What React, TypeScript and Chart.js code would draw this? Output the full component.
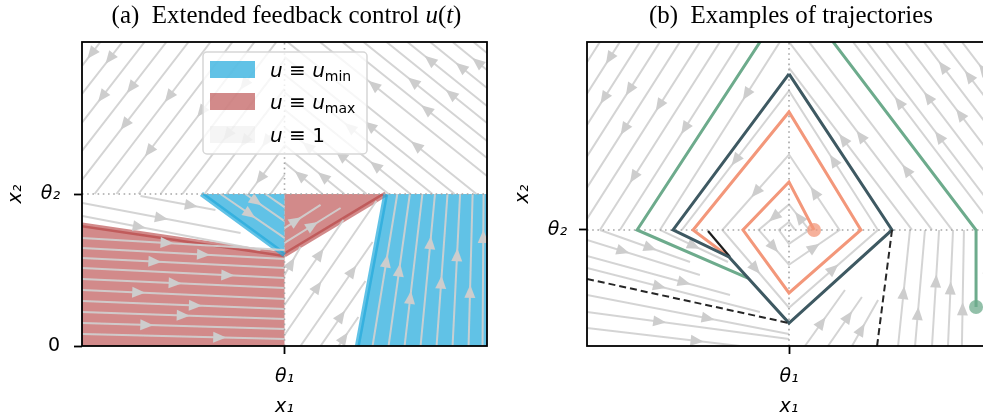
import React, { useEffect, useRef } from 'react';
import { Chart, registerables } from 'chart.js';

Chart.register(...registerables);

type P = [number, number];

// ================= shared values =================
const THETA1 = 0;
const THETA2 = 1;

// ================= panel (a) =================
const titleA: [string, string][] = [['(a)  Extended feedback control ', 'n'], ['u', 'i'], ['(', 'n'], ['t', 'i'], [')', 'n']];
const xRangeA: P = [-1, 1];
const yRangeA: P = [0, 2];
const xTicksA = [{ value: THETA1, label: 'θ₁' }];
const yTicksA = [{ value: 0, label: '0' }, { value: THETA2, label: 'θ₂' }];
const axisLabelsA = { x: 'x₁', y: 'x₂' };

const legendItemsA: [string, string][][] = [
  [['u', 'i'], [' ≡ ', 'n'], ['u', 'i'], ['min', 's']],
  [['u', 'i'], [' ≡ ', 'n'], ['u', 'i'], ['max', 's']],
  [['u', 'i'], [' ≡ 1', 'n']],
];

// u = u_min regions
const regionMinRight: P[] = [[0.5, 1], [1, 1], [1, 0], [0.36, 0], [0.5, 1]];
const regionMinTri: P[] = [[-0.41, 1], [0, 1], [0, 0.6], [-0.41, 1]];
// u = u_max regions
const regionMaxLeft: P[] = [[-1, 0], [-1, 0.796], [0, 0.6], [0, 0], [-1, 0]];
const regionMaxTri: P[] = [[0, 1], [0.5, 1], [0, 0.6], [0, 1]];
const edgesMin: P[][] = [[[-0.41, 1], [0, 0.6]], [[0.36, 0], [0.5, 1]]];
const edgesMax: P[][] = [[[-1, 0.796], [0, 0.6]], [[0, 0.6], [0.5, 1]]];

const thetaLinesA: P[][] = [[[THETA1, 0], [THETA1, 2]], [[-1, THETA2], [1, THETA2]]];

const streamsA: P[][] = [
  // upper left
  [[-0.909, 2], [-0.998, 1.846]],
  [[-0.8, 2], [-1, 1.658]],
  [[-0.691, 2], [-1, 1.47]],
  [[-0.583, 2], [-1, 1.283]],
  [[-0.474, 2], [-1, 1.093]],
  [[-0.365, 2], [-0.938, 1]],
  [[-0.257, 2], [-0.83, 1]],
  [[-0.148, 2], [-0.721, 1]],
  [[-0.04, 2], [-0.612, 1]],
  [[0, 1.882], [-0.504, 1]],
  [[0, 1.691], [-0.395, 1]],
  [[0, 1.507], [-0.286, 1]],
  [[0, 1.316], [-0.178, 1]],
  [[0, 1.125], [-0.069, 1]],
  // upper right
  [[0.188, 1], [0, 1.207]],
  [[0.296, 1], [0, 1.322]],
  [[0.405, 1], [0, 1.438]],
  [[0.514, 1], [0, 1.554]],
  [[0.622, 1], [0, 1.67]],
  [[0.731, 1], [0, 1.786]],
  [[0.84, 1], [0, 1.901]],
  [[0.948, 1], [0.015, 2]],
  [[1, 1.118], [0.175, 2]],
  [[1, 1.237], [0.286, 2]],
  [[1, 1.349], [0.39, 2]],
  [[1, 1.467], [0.504, 2]],
  [[1, 1.579], [0.607, 2]],
  [[1, 1.697], [0.719, 2]],
  [[1, 1.816], [0.83, 2]],
  [[1, 1.928], [0.933, 2]],
  // white wedge below theta2 on the left
  [[-0.998, 0.941], [-0.217, 0.743]],
  [[-0.998, 0.855], [-0.119, 0.632]],
  [[-0.711, 0.987], [-0.341, 0.895]],
  // u_max lower-left region
  [[-1, 0.711], [0, 0.632]],
  [[-1, 0.645], [0, 0.572]],
  [[-1, 0.579], [0, 0.513]],
  [[-1, 0.513], [0, 0.447]],
  [[-1, 0.441], [0, 0.382]],
  [[-1, 0.368], [0, 0.309]],
  [[-1, 0.296], [0, 0.243]],
  [[-1, 0.224], [0, 0.178]],
  [[-1, 0.151], [0, 0.112]],
  [[-1, 0.079], [0, 0.046]],
  // white lower-right wedge
  [[0, 0.467], [0.079, 0.651]],
  [[0, 0.27], [0.291, 0.829]],
  [[0, 0.072], [0.454, 0.954]],
  [[0.079, 0], [0.435, 0.684]],
  [[0.178, 0], [0.4, 0.428]],
  [[0.267, 0], [0.365, 0.191]],
  // u_min right region
  [[0.435, 0], [0.557, 1]],
  [[0.514, 0], [0.619, 1]],
  [[0.593, 0], [0.681, 1]],
  [[0.672, 0], [0.743, 1]],
  [[0.751, 0], [0.805, 1]],
  [[0.83, 0], [0.867, 1]],
  [[0.909, 0], [0.929, 1]],
  [[0.978, 0], [0.983, 1]],
  // u_min triangle
  [[-0.316, 1], [0, 0.711]],
  [[-0.193, 1], [0, 0.822]],
  [[-0.094, 1], [0, 0.914]],
  // u_max triangle
  [[0, 0.678], [0.277, 0.908]],
  [[0, 0.776], [0.178, 0.928]],
];

// ================= panel (b) =================
const titleB: [string, string][] = [['(b)  Examples of trajectories', 'n']];
const xRangeB: P = [-1, 1];
const yRangeB: P = [0, 2.62];
const xTicksB = [{ value: THETA1, label: 'θ₁' }];
const yTicksB = [{ value: THETA2, label: 'θ₂' }];
const axisLabelsB = { x: 'x₁', y: 'x₂' };

const thetaLinesB: P[][] = [[[THETA1, 0], [THETA1, 2.62]], [[-1, THETA2], [1, THETA2]]];

const streamsB: P[][] = [
  // upper left
  [[-0.936, 2.621], [-1, 2.445]],
  [[-0.837, 2.621], [-1, 2.175]],
  [[-0.738, 2.621], [-1, 1.905]],
  [[-0.639, 2.621], [-1, 1.634]],
  [[-0.54, 2.621], [-1, 1.365]],
  [[-0.441, 2.621], [-1, 1.095]],
  [[-0.342, 2.621], [-0.936, 1]],
  [[-0.243, 2.621], [-0.837, 1]],
  [[-0.045, 2.621], [-0.639, 1]],
  // upper right
  [[0.609, 1], [0, 2.397]],
  [[0.708, 1], [0, 2.621]],
  [[0.807, 1], [0.099, 2.621]],
  [[1.025, 1], [0.317, 2.621]],
  [[1, 1.216], [0.386, 2.621]],
  [[1, 1.431], [0.48, 2.621]],
  [[1, 1.647], [0.574, 2.621]],
  [[1, 1.862], [0.668, 2.621]],
  [[1, 2.078], [0.762, 2.621]],
  [[1, 2.293], [0.856, 2.621]],
  // lower left
  [[-0.936, 1], [-0.49, 0.724]],
  [[-0.639, 1], [-0.302, 0.724]],
  [[-1, 0.914], [-0.441, 0.612]],
  [[-1, 0.776], [-0.292, 0.44]],
  [[-1, 0.672], [-0.144, 0.293]],
  [[-1, 0.44], [0, 0.103]],
  [[-1, 0.293], [0, 0.06]],
  [[-1, 0.155], [-0.243, 0]],
  // lower right
  [[0.54, 0], [0.599, 1]],
  [[0.624, 0], [0.673, 1]],
  [[0.708, 0], [0.743, 1]],
  [[0.787, 0], [0.812, 1]],
  [[0.856, 0], [0.866, 1]],
  [[0.985, 0], [0.985, 1]],
  [[0.079, 0], [0.277, 0.483]],
  [[0.193, 0], [0.361, 0.422]],
  [[0.312, 0], [0.441, 0.397]],
];

const spiralB: P[] = [
  [0.03, 1], [0, 1.07], [-0.05, 1], [0, 0.88], [0.1, 1], [0, 1.22], [-0.15, 1], [0, 0.7],
  [0.25, 1], [0, 1.65], [-0.33, 1], [0, 0.33], [0.44, 1], [0, 2.2], [-0.53, 1],
];

const limitCycle: P[] = [[0, 2.345], [-0.574, 1], [-0.297, 0.767], [0, 0.198], [0.51, 1], [0, 2.345]];
const greenTraj: P[] = [[0.926, 0.336], [0.926, 1], [0.024, 3.066], [-0.752, 1], [-0.203, 0.586]];
const orangeTraj: P[] = [[0.124, 1], [0, 1.414], [-0.228, 1], [0, 0.457], [0.356, 1], [0, 2.017], [-0.475, 1], [-0.297, 0.767]];
const blackTraj: P[] = [[-0.401, 0.991], [-0.292, 0.767]];
const separatrices: P[][] = [[[-1, 0.578], [0, 0.198]], [[0.51, 1], [0.436, 0]]];
const orangeStart: P = [0.124, 1];
const greenStart: P = [0.926, 0.336];

// ================= helpers =================
const pts = (p: P[]) => p.map(([x, y]) => ({ x, y }));
const segs = (s: P[][]) => {
  const out: any[] = [];
  s.forEach((line) => {
    line.forEach(([x, y]) => out.push({ x, y }));
    out.push({ x: line[line.length - 1][0], y: null });
  });
  return out;
};

const lineDs = (data: any[], opts: any) => ({
  data,
  showLine: true,
  pointRadius: 0,
  pointHoverRadius: 0,
  fill: false,
  spanGaps: false,
  tension: 0,
  clip: 0,
  ...opts,
});

const SANS = 'DejaVu Sans';
const SERIF = 'Liberation Serif';

function drawParts(ctx: CanvasRenderingContext2D, parts: [string, string][], x: number, y: number, size: number, family: string, align: 'left' | 'center') {
  const fontFor = (st: string) =>
    st === 'i' ? `italic ${size}px "${family}"` : st === 's' ? `${Math.round(size * 0.7)}px "${family}"` : `${size}px "${family}"`;
  let total = 0;
  parts.forEach(([t, st]) => {
    ctx.font = fontFor(st);
    total += ctx.measureText(t).width;
  });
  let cx = align === 'center' ? x - total / 2 : x;
  ctx.textAlign = 'left';
  ctx.textBaseline = 'alphabetic';
  parts.forEach(([t, st]) => {
    ctx.font = fontFor(st);
    ctx.fillText(t, cx, st === 's' ? y + size * 0.22 : y);
    cx += ctx.measureText(t).width;
  });
  return total;
}

// arrow placement along each streamline segment (cycled so heads are staggered)
const ARROW_FRACTIONS = [0.5, 0.32, 0.68, 0.42, 0.6, 0.36, 0.72, 0.46, 0.28, 0.56];

const arrowPlugin = {
  id: 'streamArrows',
  afterDatasetDraw(chart: any, args: any) {
    const ds: any = chart.data.datasets[args.index];
    if (!ds.arrows) return;
    const xs = chart.scales.x;
    const ys = chart.scales.y;
    const ctx: CanvasRenderingContext2D = chart.ctx;
    const a = chart.chartArea;
    ctx.save();
    ctx.beginPath();
    ctx.rect(a.left, a.top, a.right - a.left, a.bottom - a.top);
    ctx.clip();
    ctx.fillStyle = ds.arrowColor;
    const d = ds.data;
    let k = 0;
    for (let i = 0; i < d.length - 1; i++) {
      const p = d[i];
      const q = d[i + 1];
      if (p.y == null || q.y == null) continue;
      const x0 = xs.getPixelForValue(p.x);
      const y0 = ys.getPixelForValue(p.y);
      const x1 = xs.getPixelForValue(q.x);
      const y1 = ys.getPixelForValue(q.y);
      const dx = x1 - x0;
      const dy = y1 - y0;
      const len = Math.hypot(dx, dy);
      const f = ds.arrowMid ? 0.5 : ARROW_FRACTIONS[k % ARROW_FRACTIONS.length];
      k++;
      if (len < 28) continue;
      const ux = dx / len;
      const uy = dy / len;
      const mx = x0 + dx * f;
      const my = y0 + dy * f;
      const L = 13;
      const W = 5.5;
      ctx.beginPath();
      ctx.moveTo(mx + (ux * L) / 2, my + (uy * L) / 2);
      ctx.lineTo(mx - (ux * L) / 2 - uy * W, my - (uy * L) / 2 + ux * W);
      ctx.lineTo(mx - (ux * L) / 2 + uy * W, my - (uy * L) / 2 - ux * W);
      ctx.closePath();
      ctx.fill();
    }
    ctx.restore();
  },
};

const framePlugin = {
  id: 'frame',
  afterDraw(chart: any) {
    const a = chart.chartArea;
    const ctx: CanvasRenderingContext2D = chart.ctx;
    ctx.save();
    ctx.strokeStyle = '#000';
    ctx.lineWidth = 1.8;
    ctx.strokeRect(a.left, a.top, a.right - a.left, a.bottom - a.top);
    ctx.restore();
  },
};

const makeTitlePlugin = (parts: [string, string][], targetWidth: number, baseline: number) => ({
  id: 'panelTitle',
  afterDraw(chart: any) {
    const ctx: CanvasRenderingContext2D = chart.ctx;
    const a = chart.chartArea;
    ctx.save();
    let w = 0;
    parts.forEach(([t, st]) => {
      ctx.font = st === 'i' ? `italic 20px "${SERIF}"` : `20px "${SERIF}"`;
      w += ctx.measureText(t).width;
    });
    const size = (20 * targetWidth) / w;
    ctx.fillStyle = '#000';
    drawParts(ctx, parts, (a.left + a.right) / 2 + 2, baseline, size, SERIF, 'center');
    ctx.restore();
  },
});

const legendPlugin = {
  id: 'controlLegend',
  afterDraw(chart: any) {
    const ctx: CanvasRenderingContext2D = chart.ctx;
    const a = chart.chartArea;
    const x = a.left + 121;
    const y = a.top + 10;
    const w = 164;
    const h = 102;
    ctx.save();
    ctx.beginPath();
    ctx.roundRect(x, y, w, h, 4);
    ctx.fillStyle = 'rgba(255,255,255,0.8)';
    ctx.fill();
    ctx.strokeStyle = '#d6d6d6';
    ctx.lineWidth = 1.5;
    ctx.stroke();
    const swatches = ['rgba(36,170,220,0.72)', 'rgba(180,60,60,0.6)', 'rgba(225,225,225,0.35)'];
    const rowBase = [25, 57, 90];
    legendItemsA.forEach((parts, i) => {
      ctx.fillStyle = swatches[i];
      ctx.fillRect(x + 7, y + rowBase[i] - 16, 45, 17);
      ctx.fillStyle = '#000';
      drawParts(ctx, parts, x + 67, y + rowBase[i], 20, SANS, 'left');
    });
    ctx.restore();
  },
};

const tickFont = { family: SANS, size: 19, style: 'italic' as const };

function makeScales(xr: P, yr: P, xt: { value: number; label: string }[], yt: { value: number; label: string }[], labels: { x: string; y: string }, yWidth: number, yPad: number, yTitlePad: number) {
  return {
    x: {
      type: 'linear',
      min: xr[0],
      max: xr[1],
      afterBuildTicks: (s: any) => {
        s.ticks = xt.map((t) => ({ value: t.value }));
      },
      afterFit: (s: any) => {
        s.height = 72;
      },
      grid: { drawOnChartArea: false, drawTicks: true, tickLength: 8, tickColor: '#000', tickWidth: 1.8, color: '#000' },
      border: { display: false },
      ticks: {
        autoSkip: false,
        maxRotation: 0,
        minRotation: 0,
        padding: 12,
        color: '#000',
        font: tickFont,
        callback: (v: number) => xt.find((t) => t.value === v)?.label ?? '',
      },
      title: { display: true, text: labels.x, color: '#000', font: tickFont, padding: { top: 0, bottom: 0 } },
    },
    y: {
      type: 'linear',
      min: yr[0],
      max: yr[1],
      afterBuildTicks: (s: any) => {
        s.ticks = yt.map((t) => ({ value: t.value }));
      },
      afterFit: (s: any) => {
        s.width = yWidth;
      },
      grid: { drawOnChartArea: false, drawTicks: true, tickLength: 8, tickColor: '#000', tickWidth: 1.8, color: '#000' },
      border: { display: false },
      ticks: {
        autoSkip: false,
        padding: yPad,
        color: '#000',
        font: (c: any) => ({ family: SANS, size: 19, style: c.tick && c.tick.value === 0 ? 'normal' : 'italic' }),
        callback: (v: number) => yt.find((t) => t.value === v)?.label ?? '',
      },
      title: { display: true, text: labels.y, color: '#000', font: tickFont, padding: { top: yTitlePad, bottom: 0 } },
    },
  };
}

const baseOptions = (padRight: number) => ({
  animation: false,
  responsive: false,
  devicePixelRatio: 1,
  events: [],
  layout: { padding: { left: 0, right: padRight, top: 42, bottom: 0 } },
  plugins: { legend: { display: false }, tooltip: { enabled: false }, title: { display: false } },
});

const STREAM = 'rgba(208,208,208,0.92)';
const ARROW = '#cdcdcd';
const DOTTED = '#a6a6a6';
const BLUE = 'rgba(36,170,220,0.72)';
const RED = 'rgba(180,60,60,0.6)';

function configA(): any {
  return {
    type: 'line',
    data: {
      datasets: [
        lineDs(pts(regionMinRight), { fill: 'shape', backgroundColor: BLUE, borderWidth: 0, borderColor: 'transparent', order: 20 }),
        lineDs(pts(regionMinTri), { fill: 'shape', backgroundColor: BLUE, borderWidth: 0, borderColor: 'transparent', order: 20 }),
        lineDs(pts(regionMaxLeft), { fill: 'shape', backgroundColor: RED, borderWidth: 0, borderColor: 'transparent', order: 20 }),
        lineDs(pts(regionMaxTri), { fill: 'shape', backgroundColor: RED, borderWidth: 0, borderColor: 'transparent', order: 20 }),
        lineDs(segs(edgesMin), { borderColor: BLUE, borderWidth: 5, order: 19 }),
        lineDs(segs(edgesMax), { borderColor: RED, borderWidth: 5, order: 19 }),
        lineDs(segs(streamsA), { borderColor: STREAM, borderWidth: 2, arrows: true, arrowColor: ARROW, order: 10 }),
        lineDs(segs(thetaLinesA), { borderColor: DOTTED, borderWidth: 1.6, borderDash: [1.6, 3.6], order: 5 }),
      ],
    },
    options: { ...baseOptions(13), scales: makeScales(xRangeA, yRangeA, xTicksA, yTicksA, axisLabelsA, 82, 14, 5) },
    plugins: [arrowPlugin, framePlugin, makeTitlePlugin(titleA, 350, 23), legendPlugin],
  };
}

function configB(): any {
  return {
    type: 'line',
    data: {
      datasets: [
        lineDs(segs(streamsB), { borderColor: STREAM, borderWidth: 2, arrows: true, arrowColor: ARROW, order: 10 }),
        lineDs(pts(spiralB), { borderColor: STREAM, borderWidth: 2, arrows: true, arrowMid: true, arrowColor: ARROW, order: 10 }),
        lineDs(segs(thetaLinesB), { borderColor: DOTTED, borderWidth: 1.6, borderDash: [1.6, 3.6], order: 6 }),
        lineDs(pts(greenTraj), { borderColor: '#6dab8c', borderWidth: 3, borderJoinStyle: 'miter', order: 4 }),
        lineDs(pts(orangeTraj), { borderColor: '#f3977a', borderWidth: 3, borderJoinStyle: 'miter', order: 3 }),
        lineDs(pts(blackTraj), { borderColor: '#1e1e1e', borderWidth: 2.2, order: 2.5 }),
        lineDs(pts(limitCycle), { borderColor: '#3e5962', borderWidth: 3, borderJoinStyle: 'miter', order: 2 }),
        lineDs(segs(separatrices), { borderColor: '#262626', borderWidth: 2, borderDash: [7, 4], order: 1 }),
        { data: pts([orangeStart]), showLine: false, pointRadius: 7, pointBorderWidth: 0, pointBackgroundColor: 'rgba(243,151,122,0.75)', clip: false, order: 0 },
        { data: pts([greenStart]), showLine: false, pointRadius: 7, pointBorderWidth: 0, pointBackgroundColor: 'rgba(109,171,140,0.75)', clip: false, order: 0 },
      ],
    },
    options: { ...baseOptions(19), scales: makeScales(xRangeB, yRangeB, xTicksB, yTicksB, axisLabelsB, 87, 12, 12) },
    plugins: [arrowPlugin, framePlugin, makeTitlePlugin(titleB, 284, 23)],
  };
}

function Panel({ make, left, width }: { make: () => any; left: number; width: number }) {
  const ref = useRef<HTMLCanvasElement>(null);
  useEffect(() => {
    const chart = new Chart(ref.current as HTMLCanvasElement, make());
    return () => chart.destroy();
  }, [make]);
  return (
    <canvas
      ref={ref}
      width={width}
      height={418}
      style={{ position: 'absolute', left, top: 0, width, height: 418, display: 'block' }}
    />
  );
}

export default function App() {
  return (
    <div style={{ position: 'fixed', left: 0, top: 0, width: 983, height: 418, overflow: 'hidden', background: '#fff' }}>
      <Panel make={configA} left={0} width={500} />
      <Panel make={configB} left={500} width={510} />
    </div>
  );
}
